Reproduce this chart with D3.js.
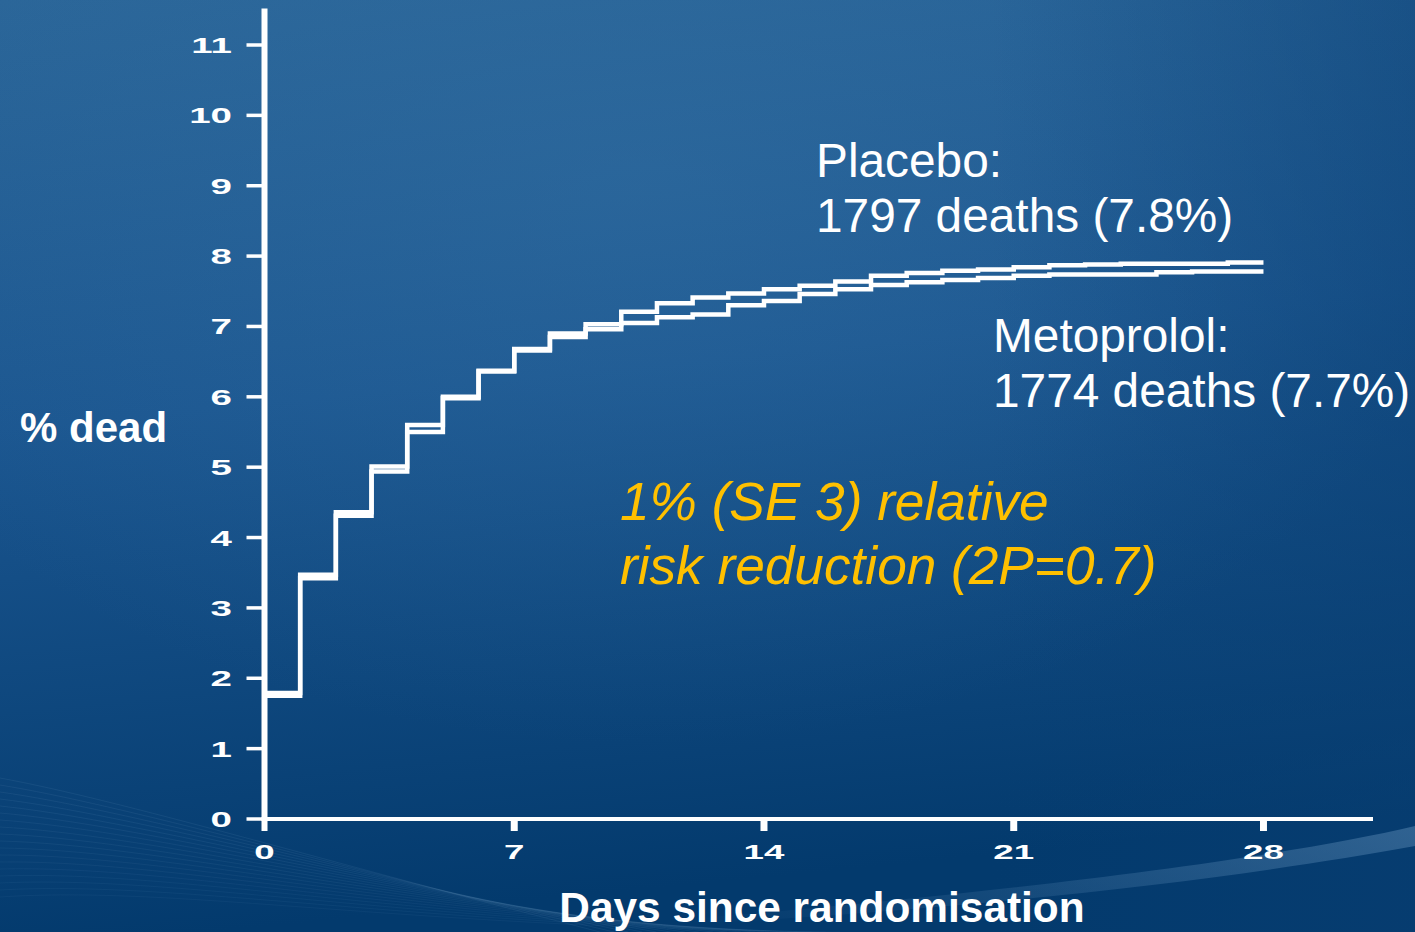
<!DOCTYPE html>
<html>
<head>
<meta charset="utf-8">
<script src="https://cdn.jsdelivr.net/npm/d3@7"></script>
<style>
  html, body { margin: 0; padding: 0; background: #0b447a; }
  svg { display: block; }
  text { font-family: "Liberation Sans", Arial, sans-serif; }
</style>
</head>
<body>
<svg id="chart" width="1415" height="932"></svg>
<script>
// Cumulative mortality (%) by day since randomisation; value holds from that day to the next.
const days = d3.range(0, 28);
const placebo = [1.79, 3.47, 4.36, 5.01, 5.60, 6.00, 6.37, 6.68, 6.90, 7.03,
                 7.21, 7.33, 7.41, 7.47, 7.53, 7.58, 7.64, 7.72, 7.76, 7.79,
                 7.81, 7.84, 7.87, 7.88, 7.89, 7.89, 7.89, 7.91];
const metoprolol = [1.75, 3.42, 4.31, 4.94, 5.50, 5.98, 6.36, 6.66, 6.85, 6.96,
                    7.05, 7.13, 7.17, 7.30, 7.36, 7.46, 7.53, 7.59, 7.63, 7.66,
                    7.69, 7.72, 7.74, 7.74, 7.74, 7.77, 7.78, 7.78];
const followUpEnd = 28;
const xTicks = [0, 7, 14, 21, 28];
const yTicks = [0, 1, 2, 3, 4, 5, 6, 7, 8, 9, 10, 11];
const annotations = [
  { lines: ["Placebo:", "1797 deaths (7.8%)"], x: 816, y: 177 },
  { lines: ["Metoprolol:", "1774 deaths (7.7%)"], x: 993, y: 352 }
];
const effectText = ["1% (SE 3) relative", "risk reduction (2P=0.7)"];

const svg = d3.select("#chart");
const W = 1415, H = 932;

// ---- background ----
const defs = svg.append("defs");
const bg = defs.append("linearGradient").attr("id", "bg")
  .attr("x1", 0).attr("y1", 0).attr("x2", 0.15).attr("y2", 1);
bg.append("stop").attr("offset", "0%").attr("stop-color", "#2a6598");
bg.append("stop").attr("offset", "45%").attr("stop-color", "#1b5690");
bg.append("stop").attr("offset", "100%").attr("stop-color", "#033a6d");
const glow = defs.append("radialGradient").attr("id", "glow")
  .attr("cx", 0.45).attr("cy", 0.2).attr("r", 0.6);
glow.append("stop").attr("offset", "0%").attr("stop-color", "#3a77a8").attr("stop-opacity", 0.35);
glow.append("stop").attr("offset", "100%").attr("stop-color", "#3a77a8").attr("stop-opacity", 0);
const edge = defs.append("linearGradient").attr("id", "edge")
  .attr("x1", 0).attr("y1", 0).attr("x2", 1).attr("y2", 0);
edge.append("stop").attr("offset", "70%").attr("stop-color", "#0a3f73").attr("stop-opacity", 0);
edge.append("stop").attr("offset", "100%").attr("stop-color", "#0a3f73").attr("stop-opacity", 0.45);
const beam = defs.append("linearGradient").attr("id", "beam")
  .attr("x1", 1).attr("y1", 0).attr("x2", 0).attr("y2", 0.3);
beam.append("stop").attr("offset", "0%").attr("stop-color", "#6f9cc4").attr("stop-opacity", 0.5);
beam.append("stop").attr("offset", "100%").attr("stop-color", "#6f9cc4").attr("stop-opacity", 0);

svg.append("rect").attr("width", W).attr("height", H).attr("fill", "url(#bg)");
svg.append("rect").attr("width", W).attr("height", H).attr("fill", "url(#glow)");
svg.append("rect").attr("width", W).attr("height", H).attr("fill", "url(#edge)");

// light sweep entering from the right edge
svg.append("path")
  .attr("d", `M${W},826 C1250,865 900,905 520,932 C900,918 1200,885 ${W},846 Z`)
  .attr("fill", "url(#beam)").attr("opacity", 0.8);

// fine swirl lines in the lower left
const swirl = svg.append("g").attr("fill", "none").attr("stroke", "#8fb6d8");
d3.range(0, 18).forEach(i => {
  const t = i / 17;
  swirl.append("path")
    .attr("d", `M0,${778 + i * 7} C${120 + t * 60},${800 + i * 5} ${320 + t * 80},${860 + i * 4} ${600 + t * 240},${932}`)
    .attr("stroke-width", 0.8)
    .attr("opacity", 0.12 - t * 0.05);
});

// ---- scales ----
const x = d3.scaleLinear().domain([0, 31.07]).range([264.5, 1373]);
const y = d3.scaleLinear().domain([0, 11]).range([819, 45]);

// ---- axes ----
const axis = svg.append("g").attr("stroke", "#ffffff").attr("fill", "none");
// y axis line (runs slightly below the x axis, forming the day-0 tick)
axis.append("line")
  .attr("x1", x(0)).attr("x2", x(0))
  .attr("y1", y(11.52)).attr("y2", y(0) + 12)
  .attr("stroke-width", 6);
// x axis line
axis.append("line")
  .attr("x1", x(0) - 3).attr("x2", x(31.07))
  .attr("y1", y(0)).attr("y2", y(0))
  .attr("stroke-width", 4);
// y ticks
axis.selectAll("line.yt").data(yTicks).join("line").attr("class", "yt")
  .attr("x1", x(0) - 18).attr("x2", x(0))
  .attr("y1", d => y(d)).attr("y2", d => y(d))
  .attr("stroke-width", 3.5);
// x ticks
axis.selectAll("line.xt").data(xTicks.filter(d => d > 0)).join("line").attr("class", "xt")
  .attr("x1", d => x(d)).attr("x2", d => x(d))
  .attr("y1", y(0)).attr("y2", y(0) + 12)
  .attr("stroke-width", 7);

// tick labels: heavy, wide numerals
svg.selectAll("g.ylab").data(yTicks).join("g").attr("class", "ylab")
  .attr("transform", d => `translate(232,${y(d) + 8}) scale(1.75,1)`)
  .append("text")
  .attr("text-anchor", "end")
  .attr("font-size", 22).attr("font-weight", "bold").attr("fill", "#ffffff")
  .text(d => d);

svg.selectAll("g.xlab").data(xTicks).join("g").attr("class", "xlab")
  .attr("transform", d => `translate(${x(d)},859) scale(1.75,1)`)
  .append("text")
  .attr("text-anchor", "middle")
  .attr("font-size", 21).attr("font-weight", "bold").attr("fill", "#ffffff")
  .text(d => d);

// axis titles
svg.append("text")
  .attr("x", 20).attr("y", 442)
  .attr("font-size", 42).attr("font-weight", "bold").attr("fill", "#ffffff")
  .text("% dead");
svg.append("text")
  .attr("x", 822).attr("y", 922).attr("text-anchor", "middle")
  .attr("font-size", 42.4).attr("font-weight", "bold").attr("fill", "#ffffff")
  .text("Days since randomisation");

// ---- survival step curves ----
const line = d3.line()
  .x(d => x(d[0]))
  .y(d => y(d[1]))
  .curve(d3.curveStepAfter);

function series(vals) {
  const pts = days.map((d, i) => [d, vals[i]]);
  pts.push([followUpEnd, vals[vals.length - 1]]);
  return pts;
}

const curves = svg.append("g").attr("fill", "none").attr("stroke", "#ffffff")
  .attr("stroke-width", 4.5).attr("stroke-linejoin", "miter");
curves.append("path").attr("d", line(series(metoprolol)));
curves.append("path").attr("d", line(series(placebo)));

// ---- labels ----
annotations.forEach(a => {
  const t = svg.append("text")
    .attr("x", a.x).attr("y", a.y)
    .attr("font-size", 47.8).attr("fill", "#ffffff");
  a.lines.forEach((s, i) => {
    t.append("tspan").attr("x", a.x).attr("dy", i === 0 ? 0 : 55).text(s);
  });
});

const eff = svg.append("text")
  .attr("x", 620).attr("y", 520)
  .attr("font-size", 53.2).attr("font-style", "italic").attr("fill", "#ffc000");
effectText.forEach((s, i) => {
  eff.append("tspan").attr("x", 620).attr("dy", i === 0 ? 0 : 64).text(s);
});
</script>
</body>
</html>
